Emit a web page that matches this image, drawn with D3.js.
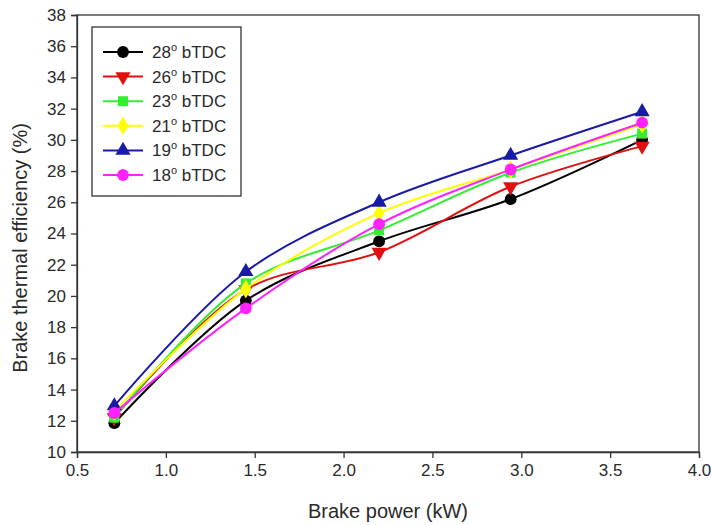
<!DOCTYPE html>
<html>
<head>
<meta charset="utf-8">
<script src="https://cdn.jsdelivr.net/npm/d3@7/dist/d3.min.js"></script>
<style>
  html, body { margin: 0; padding: 0; background: #fff; }
  svg { display: block; font-family: "Liberation Sans", Arial, sans-serif; }
</style>
</head>
<body>
<svg id="chart" width="711" height="525"></svg>
<script>
// Brake power (kW) at each test load
const brakePower = [0.71, 1.45, 2.20, 2.94, 3.68];

// Brake thermal efficiency (%) for each injection timing
const bte28 = [11.85, 19.7, 23.5, 26.2, 30.0];
const bte26 = [12.2, 20.4, 22.8, 27.0, 29.6];
const bte23 = [12.2, 20.8, 24.2, 27.9, 30.4];
const bte21 = [12.6, 20.45, 25.3, 28.1, 31.0];
const bte19 = [12.95, 21.55, 26.0, 29.0, 31.8];
const bte18 = [12.5, 19.2, 24.6, 28.1, 31.1];

const timings = ["28", "26", "23", "21", "19", "18"];

const xTicks = [0.5, 1.0, 1.5, 2.0, 2.5, 3.0, 3.5, 4.0];
const yTicks = [10, 12, 14, 16, 18, 20, 22, 24, 26, 28, 30, 32, 34, 36, 38];

const seriesList = [
  { name: timings[0], values: bte28, color: "#000000", symbol: "circle" },
  { name: timings[1], values: bte26, color: "#e01010", symbol: "triangleDown" },
  { name: timings[2], values: bte23, color: "#33ee33", symbol: "square" },
  { name: timings[3], values: bte21, color: "#ffff00", symbol: "diamond" },
  { name: timings[4], values: bte19, color: "#1a1aa8", symbol: "triangleUp" },
  { name: timings[5], values: bte18, color: "#ff22ff", symbol: "circle" }
];

const svg = d3.select("#chart");
const plotLeft = 77, plotRight = 699, plotTop = 15, plotBottom = 452;
const textColor = "#2a2a2a";

const x = d3.scaleLinear().domain([0.5, 4.0]).range([plotLeft, plotRight]);
const y = d3.scaleLinear().domain([10, 38]).range([plotBottom, plotTop]);

// Frame
svg.append("rect")
  .attr("x", plotLeft).attr("y", plotTop)
  .attr("width", plotRight - plotLeft).attr("height", plotBottom - plotTop)
  .attr("fill", "none").attr("stroke", "#333").attr("stroke-width", 1.3);

// Axes
const xAxis = svg.append("g")
  .attr("transform", `translate(0,${plotBottom})`)
  .call(d3.axisBottom(x).tickValues(xTicks).tickFormat(d3.format(".1f")).tickSize(6).tickPadding(6));
const yAxis = svg.append("g")
  .attr("transform", `translate(${plotLeft},0)`)
  .call(d3.axisLeft(y).tickValues(yTicks).tickFormat(d3.format("d")).tickSize(6).tickPadding(5));

[xAxis, yAxis].forEach(g => {
  g.select(".domain").attr("stroke", "#333").attr("stroke-width", 1.3);
  g.selectAll(".tick line").attr("stroke", "#333").attr("stroke-width", 1.3);
  g.selectAll(".tick text").attr("fill", textColor).style("font-size", "17px")
    .style("font-family", "'Liberation Sans', Arial, sans-serif");
});

// Axis titles
svg.append("text")
  .attr("x", 388).attr("y", 518)
  .attr("text-anchor", "middle")
  .style("font-size", "20px").attr("fill", textColor)
  .text("Brake power (kW)");
svg.append("text")
  .attr("transform", `translate(27,248) rotate(-90)`)
  .attr("text-anchor", "middle")
  .style("font-size", "20px").attr("fill", textColor)
  .text("Brake thermal efficiency (%)");

// Marker shapes
const symbolPath = {
  circle: d3.symbol().type(d3.symbolCircle).size(110)(),
  square: d3.symbol().type(d3.symbolSquare).size(100)(),
  diamond: d3.symbol().type(d3.symbolDiamond).size(100)(),
  triangleUp: d3.symbol().type(d3.symbolTriangle).size(100)(),
  triangleDown: d3.symbol().type(d3.symbolTriangle).size(100)()
};
function marker(g, s, cx, cy) {
  return g.append("path")
    .attr("d", symbolPath[s.symbol])
    .attr("fill", s.color)
    .attr("transform", `translate(${cx},${cy})` + (s.symbol === "triangleDown" ? " rotate(180)" : ""));
}

const line = d3.line()
  .x((d, i) => x(brakePower[i]))
  .y(d => y(d))
  .curve(d3.curveCatmullRom.alpha(0.5));

const plot = svg.append("g");
seriesList.forEach(s => {
  const g = plot.append("g");
  g.append("path")
    .attr("d", line(s.values))
    .attr("fill", "none")
    .attr("stroke", s.color)
    .attr("stroke-width", 2);
  s.values.forEach((v, i) => marker(g, s, x(brakePower[i]), y(v)));
});

// Legend
const lg = svg.append("g");
lg.append("rect")
  .attr("x", 92).attr("y", 27).attr("width", 149).attr("height", 169)
  .attr("fill", "#fff").attr("stroke", "#333").attr("stroke-width", 1.3);
seriesList.forEach((s, i) => {
  const cy = 52 + i * 24.6;
  lg.append("line")
    .attr("x1", 103).attr("x2", 143).attr("y1", cy).attr("y2", cy)
    .attr("stroke", s.color).attr("stroke-width", 2);
  marker(lg, s, 123, cy);
  const t = lg.append("text")
    .attr("x", 152).attr("y", cy + 6)
    .style("font-size", "17px").attr("fill", textColor);
  t.append("tspan").text(s.name);
  t.append("tspan").attr("dy", -7).style("font-size", "11px").text("o");
  t.append("tspan").attr("dy", 7).text(" bTDC");
});
</script>
</body>
</html>
